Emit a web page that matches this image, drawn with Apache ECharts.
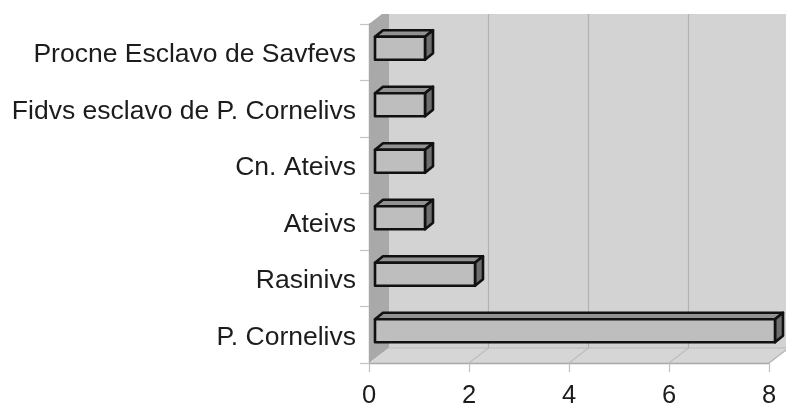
<!DOCTYPE html>
<html><head><meta charset="utf-8">
<script src="https://cdn.jsdelivr.net/npm/echarts@6/dist/echarts.min.js"></script>
<style>html,body{margin:0;padding:0;background:#fff}#c{width:786px;height:405px;filter:blur(.5px)}</style>
</head><body><div id="c"></div>
<script>
const categories = ['P. Cornelivs','Rasinivs','Ateivs','Cn. Ateivs','Fidvs esclavo de P. Cornelivs','Procne Esclavo de Savfevs'];
const values = [8,2,1,1,1,1];
const xTicks = [0,2,4,6,8];

const DX = 19.5, DY = -15;          // depth of the chart box
const BX = 6, BDX = 8, BDY = -6.5;  // bar inset and depth
const BOFF = -4, BH = 23;           // bar vertical offset and height
const CLIP_TOP = 14;

const chart = echarts.init(document.getElementById('c'), null, {renderer:'canvas'});

function poly(points, fill, stroke, lw){
  return {type:'polygon', shape:{points}, style:{fill, stroke:stroke||null, lineWidth:lw||0, lineJoin:'round'}};
}

const boxSeries = {
  type:'custom', z:1, silent:true, clip:false,
  data:[[0]],
  encode:{x:0},
  renderItem(params, api){
    const cs = params.coordSys;
    const L = cs.x, B = cs.y+cs.height, T = cs.y, R = cs.x+cs.width;
    const yBackTop = CLIP_TOP;
    const frac = (T - yBackTop)/(-DY);
    const children = [
      poly([[L+DX,yBackTop],[800,yBackTop],[800,B+DY],[L+DX,B+DY]],'#d3d3d3'),
      poly([[L,T],[L+DX*frac,yBackTop],[L+DX+0.5,yBackTop],[L+DX+0.5,B+DY],[L,B]],'#a9a9a9'),
      poly([[L,B],[L+DX,B+DY],[R+DX,B+DY],[R,B]],'#d6d6d6')
    ];
    xTicks.forEach(t=>{
      const x = api.coord([t,'P. Cornelivs'])[0];
      if(t>0){
        children.push({type:'line',shape:{x1:x+DX,y1:yBackTop,x2:x+DX,y2:B+DY},style:{stroke:'#b2b2b2',lineWidth:1.2}});
        children.push({type:'line',shape:{x1:x,y1:B,x2:x+DX,y2:B+DY},style:{stroke:'#bdbdbd',lineWidth:1.2}});
      }
    });
    children.push({type:'line',shape:{x1:L+DX,y1:B+DY,x2:800,y2:B+DY},style:{stroke:'#bcbcbc',lineWidth:1.2}});
    children.push({type:'line',shape:{x1:R,y1:B,x2:R+DX,y2:B+DY},style:{stroke:'#bcbcbc',lineWidth:1.2}});
    return {type:'group',children};
  }
};

const barSeries = {
  type:'custom', z:3, silent:true, clip:false,
  data: values.map((v,i)=>[v,categories[i]]),
  encode:{x:0,y:1},
  renderItem(params, api){
    const cat = categories[params.dataIndex];
    const end = api.coord([api.value(0),cat]);
    const st = api.coord([0,cat]);
    const x0 = st[0]+BX, x1 = end[0]+BX;
    const t = st[1]+BOFF-BH/2, b = t+BH;
    const S='#111', W=2.6;
    return {type:'group',children:[
      poly([[x0,t],[x0+BDX,t+BDY],[x1+BDX,t+BDY],[x1,t]],'#929292',S,W),
      poly([[x1,t],[x1+BDX,t+BDY],[x1+BDX,b+BDY],[x1,b]],'#6e6e6e',S,W),
      poly([[x0,t],[x1,t],[x1,b],[x0,b]],'#bebebe',S,W)
    ]};
  }
};

chart.setOption({
  animation:false,
  backgroundColor:'#fff',
  grid:{left:369,right:17,top:24,height:339,containLabel:false,outerBoundsMode:'none'},
  xAxis:{type:'value',min:0,max:8,interval:2,z:2,
    axisLine:{show:true,lineStyle:{color:'#a8a8a8',width:1.4}},
    axisTick:{show:true,length:9,lineStyle:{color:'#c0c0c0',width:1.2}},
    axisLabel:{color:'#1c1c1c',fontFamily:'Liberation Sans',fontSize:25.5,margin:20,
      formatter:v=>xTicks.includes(v)?String(v):''},
    splitLine:{show:false}},
  yAxis:{type:'category',data:categories,z:2,
    axisLine:{show:true,lineStyle:{color:'#a8a8a8',width:1.4}},
    axisTick:{show:true,length:9,alignWithLabel:false,lineStyle:{color:'#c4c4c4',width:1.2}},
    axisLabel:{color:'#1c1c1c',fontFamily:'Liberation Sans',fontSize:26.5,margin:13,interval:0,verticalAlign:'top',lineHeight:5},
    splitLine:{show:false}},
  series:[boxSeries,barSeries]
});
</script></body></html>
